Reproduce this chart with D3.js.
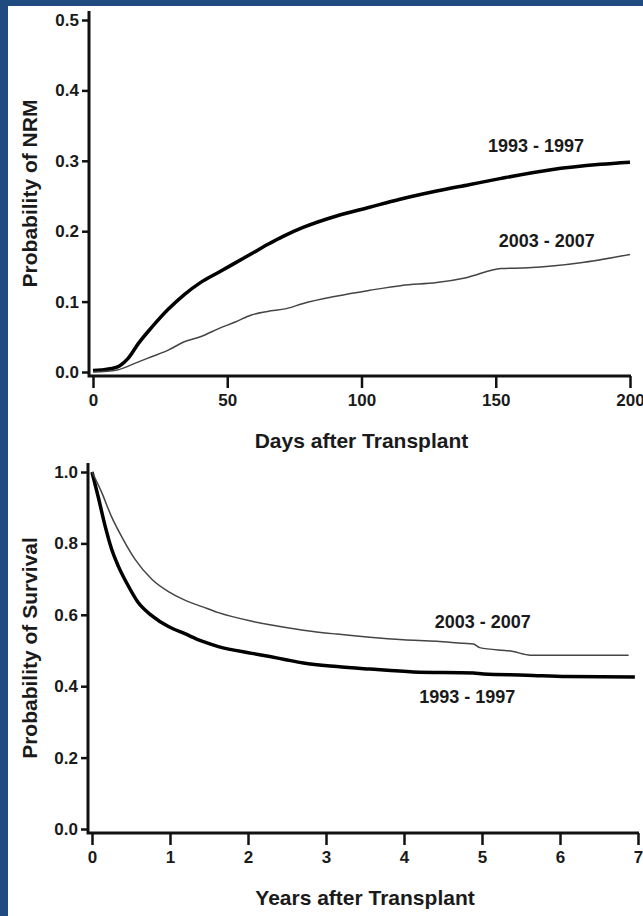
<!DOCTYPE html>
<html>
<head>
  <meta charset="utf-8">
  <title>NRM and survival by era</title>
  <style>
    body {
      margin: 0;
      background: #1f4b80;
    }
    svg text {
      font-family: "Liberation Sans", Arial, sans-serif;
      font-weight: bold;
      fill: #1a1a1a;
    }
    .tick line, .axis-line {
      stroke: #111;
    }
  </style>
  <script src="https://d3js.org/d3.v7.min.js"></script>
</head>
<body>
  <script>
    // NRM (days after transplant)
    var nrmDays1993 = [0, 3, 7, 10, 13, 17, 22, 28, 34, 40, 47, 53, 59, 65, 71, 78, 91, 103, 114, 128, 140, 152, 170, 189, 200];
    var nrm1993 = [0.002, 0.003, 0.005, 0.009, 0.019, 0.041, 0.064, 0.089, 0.110, 0.127, 0.142, 0.155, 0.168, 0.181, 0.193, 0.205, 0.222, 0.234, 0.245, 0.257, 0.266, 0.275, 0.287, 0.295, 0.298];
    var nrmDays2003 = [0, 9, 16, 22, 28, 34, 40, 47, 53, 59, 65, 72, 78, 91, 103, 115, 128, 139, 152, 162, 183, 200];
    var nrm2003 = [0.0, 0.003, 0.013, 0.022, 0.031, 0.043, 0.050, 0.062, 0.071, 0.081, 0.086, 0.090, 0.097, 0.108, 0.116, 0.123, 0.127, 0.134, 0.147, 0.148, 0.156, 0.167];

    // Survival (years after transplant)
    var survYears1993 = [0, 0.08, 0.17, 0.25, 0.34, 0.47, 0.59, 0.77, 0.98, 1.19, 1.41, 1.62, 2.05, 2.28, 2.47, 2.71, 3.14, 3.56, 4.12, 4.89, 5.02, 5.57, 6.09, 6.96];
    var surv1993 = [1.0, 0.93, 0.847, 0.785, 0.735, 0.679, 0.635, 0.597, 0.567, 0.547, 0.526, 0.511, 0.492, 0.483, 0.475, 0.465, 0.455, 0.448, 0.440, 0.437, 0.434, 0.431, 0.427, 0.426];
    var survYears2003 = [0, 0.12, 0.25, 0.38, 0.55, 0.77, 0.98, 1.19, 1.41, 1.62, 2.05, 2.28, 2.71, 3.14, 3.56, 3.99, 4.42, 4.76, 4.89, 4.97, 5.4, 5.62, 6.88];
    var surv2003 = [1.0, 0.945, 0.875, 0.819, 0.756, 0.699, 0.665, 0.641, 0.623, 0.606, 0.582, 0.572, 0.557, 0.546, 0.537, 0.530, 0.526, 0.520, 0.518, 0.508, 0.497, 0.487, 0.487];

    var nrmYTicks = [0.0, 0.1, 0.2, 0.3, 0.4, 0.5];
    var nrmXTicks = [0, 50, 100, 150, 200];
    var survYTicks = [0.0, 0.2, 0.4, 0.6, 0.8, 1.0];
    var survXTicks = [0, 1, 2, 3, 4, 5, 6, 7];
    var eraLabels = ['1993 - 1997', '2003 - 2007'];

    var width = 643;
    var height = 916;

    var svg = d3.select('body').append('svg')
      .attr('width', width)
      .attr('height', height)
      .style('display', 'block');

    svg.append('rect')
      .attr('x', 8)
      .attr('y', 6)
      .attr('width', width - 8)
      .attr('height', height - 6)
      .attr('fill', '#fff');

    function zip(xs, ys) {
      return xs.map((v, i) => [v, ys[i]]);
    }

    // draws one Prism-style panel
    function panel(opt) {
      var x = d3.scaleLinear().domain(opt.xDomain).range(opt.xRange);
      var y = d3.scaleLinear().domain(opt.yDomain).range(opt.yRange);
      var g = svg.append('g');

      var axisX = x(opt.xDomain[0]) - 4;
      var axisY = y(opt.yDomain[0]) + 4;

      // y axis
      var ya = g.append('g')
        .attr('transform', 'translate(' + axisX + ',0)')
        .call(d3.axisLeft(y).tickValues(opt.yTicks).tickSize(7).tickPadding(3).tickFormat(d3.format('.1f')));
      ya.select('.domain').remove();
      ya.selectAll('.tick line').attr('stroke-width', 2.5);
      ya.selectAll('.tick text').style('font-size', '17px').attr('fill', '#1a1a1a');

      // x axis
      var xa = g.append('g')
        .attr('transform', 'translate(0,' + axisY + ')')
        .call(d3.axisBottom(x).tickValues(opt.xTicks).tickSize(12).tickPadding(6).tickFormat(d3.format('d')));
      xa.select('.domain').remove();
      xa.selectAll('.tick line').attr('stroke-width', 2.5);
      xa.selectAll('.tick text').style('font-size', '17px').attr('fill', '#1a1a1a');

      g.append('path')
        .attr('class', 'axis-line')
        .attr('fill', 'none')
        .attr('stroke-width', 3)
        .attr('d', d3.line()([
          [axisX, y(opt.yDomain[1]) - 9],
          [axisX, axisY],
          [x(opt.xDomain[1]) + 1, axisY]
        ]));

      var line = d3.line()
        .x(d => x(d[0]))
        .y(d => y(d[1]))
        .curve(d3.curveMonotoneX);

      opt.series.forEach(s => {
        g.append('path')
          .datum(s.data)
          .attr('fill', 'none')
          .attr('stroke', s.color)
          .attr('stroke-width', s.width)
          .attr('stroke-linejoin', 'round')
          .attr('d', line);
        g.append('text')
          .attr('x', x(s.label[0]))
          .attr('y', y(s.label[1]))
          .attr('text-anchor', 'middle')
          .style('font-size', '18px')
          .text(s.name);
      });

      // axis titles
      g.append('text')
        .attr('x', (opt.xRange[0] + opt.xRange[1]) / 2)
        .attr('y', opt.titleY)
        .attr('text-anchor', 'middle')
        .style('font-size', '21px')
        .text(opt.xTitle);

      g.append('text')
        .attr('transform', 'translate(37,' + ((y(opt.yDomain[1]) - 9 + axisY) / 2) + ') rotate(-90)')
        .attr('text-anchor', 'middle')
        .style('font-size', '21px')
        .text(opt.yTitle);
    }

    panel({
      xDomain: [0, 200], xRange: [93, 630],
      yDomain: [0, 0.5], yRange: [372, 20],
      xTicks: nrmXTicks, yTicks: nrmYTicks,
      xTitle: 'Days after Transplant', yTitle: 'Probability of NRM',
      titleY: 448,
      series: [
        {name: eraLabels[0], data: zip(nrmDays1993, nrm1993), color: '#000', width: 3.5, label: [165, 0.312]},
        {name: eraLabels[1], data: zip(nrmDays2003, nrm2003), color: '#444', width: 1.5, label: [169, 0.178]}
      ]
    });

    panel({
      xDomain: [0, 7], xRange: [92, 638],
      yDomain: [0, 1], yRange: [829, 472],
      xTicks: survXTicks, yTicks: survYTicks,
      xTitle: 'Years after Transplant', yTitle: 'Probability of Survival',
      titleY: 905,
      series: [
        {name: eraLabels[0], data: zip(survYears1993, surv1993), color: '#000', width: 3.5, label: [4.81, 0.353]},
        {name: eraLabels[1], data: zip(survYears2003, surv2003), color: '#444', width: 1.5, label: [5.01, 0.563]}
      ]
    });
  </script>
</body>
</html>
